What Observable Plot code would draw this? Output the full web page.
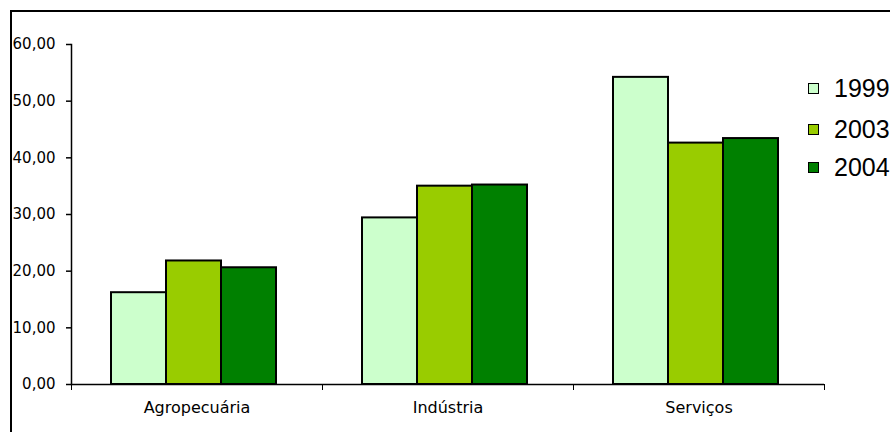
<!DOCTYPE html>
<html><head><meta charset="utf-8">
<script src="https://cdn.jsdelivr.net/npm/d3@7"></script>
<script src="https://cdn.jsdelivr.net/npm/@observablehq/plot@0.6"></script>
<style>
html,body{margin:0;padding:0;background:#fff}
body{width:890px;height:432px;overflow:hidden;position:relative;font-family:"DejaVu Sans",sans-serif}
#border{position:absolute;left:10px;top:10px;width:900px;height:440px;border-left:2px solid #000;border-top:2px solid #000;box-sizing:border-box}
#chart{position:absolute;left:0;top:0}
.item{position:absolute;left:808px;height:30px;display:flex;align-items:center;font-family:"Liberation Sans",Arial,sans-serif;font-size:25px;color:#000}
.sw{width:9px;height:9px;border:1px solid #000;margin-right:15px}
</style>
</head><body>
<div id="border"></div>
<div id="chart"></div>
<div id="legend"></div>
<script>
const categories = ["Agropecuária", "Indústria", "Serviços"];
const years = ["1999", "2003", "2004"];
const values1999 = [16.2, 29.4, 54.2];
const values2003 = [21.8, 35.0, 42.6];
const values2004 = [20.6, 35.2, 43.4];
const yTicks = [0, 10, 20, 30, 40, 50, 60];
const colors = ["#CCFFCC", "#99CC00", "#008000"];

const series = [values1999, values2003, values2004];
const table = [];
categories.forEach((c, i) => years.forEach((y, j) => table.push({category: c, year: y, value: series[j][i]})));

const fmt = d => d.toFixed(2).replace(".", ",");

const chart = Plot.plot({
  width: 890, height: 432,
  marginLeft: 71, marginRight: 66, marginTop: 44, marginBottom: 48,
  style: {fontFamily: "DejaVu Sans", fontSize: "15px", color: "#000", background: "transparent"},
  fx: {domain: categories, padding: 0, label: null, axis: null},
  x: {domain: years, axis: null, paddingInner: 0, paddingOuter: 0.745, align: 0.47},
  y: {domain: [0, 60], axis: null},
  color: {domain: years, range: colors},
  marks: [
    Plot.barY(table, {fx: "category", x: "year", y: "value", fill: "year", stroke: "black", strokeWidth: 2}),
    Plot.ruleY([0], {stroke: "black", strokeWidth: 1.5}),
    Plot.frame({anchor: "left", insetTop: 340, insetBottom: -5, stroke: "black"}),
    Plot.frame({anchor: "right", insetTop: 340, insetBottom: -5, stroke: "black"}),
    Plot.frame({anchor: "left", fx: [categories[0]], stroke: "black", strokeWidth: 1.5}),
    Plot.axisY(yTicks, {tickSize: 5, tickPadding: 11, tickFormat: fmt, label: null, stroke: "black", strokeWidth: 1.5, fill: "black", fontSize: 15}),
    Plot.axisFx({anchor: "bottom", tickSize: 0, tickPadding: 17, label: null, fill: "black", fontSize: 16})
  ]
});
document.getElementById("chart").appendChild(chart);

const legend = document.getElementById("legend");
const centers = [88, 129, 167];
years.forEach((y, i) => {
  const it = document.createElement("div");
  it.className = "item";
  it.style.top = (centers[i] - 15) + "px";
  const sw = document.createElement("span");
  sw.className = "sw";
  sw.style.background = colors[i];
  it.appendChild(sw);
  it.appendChild(document.createTextNode(y));
  legend.appendChild(it);
});
</script>
</body></html>
